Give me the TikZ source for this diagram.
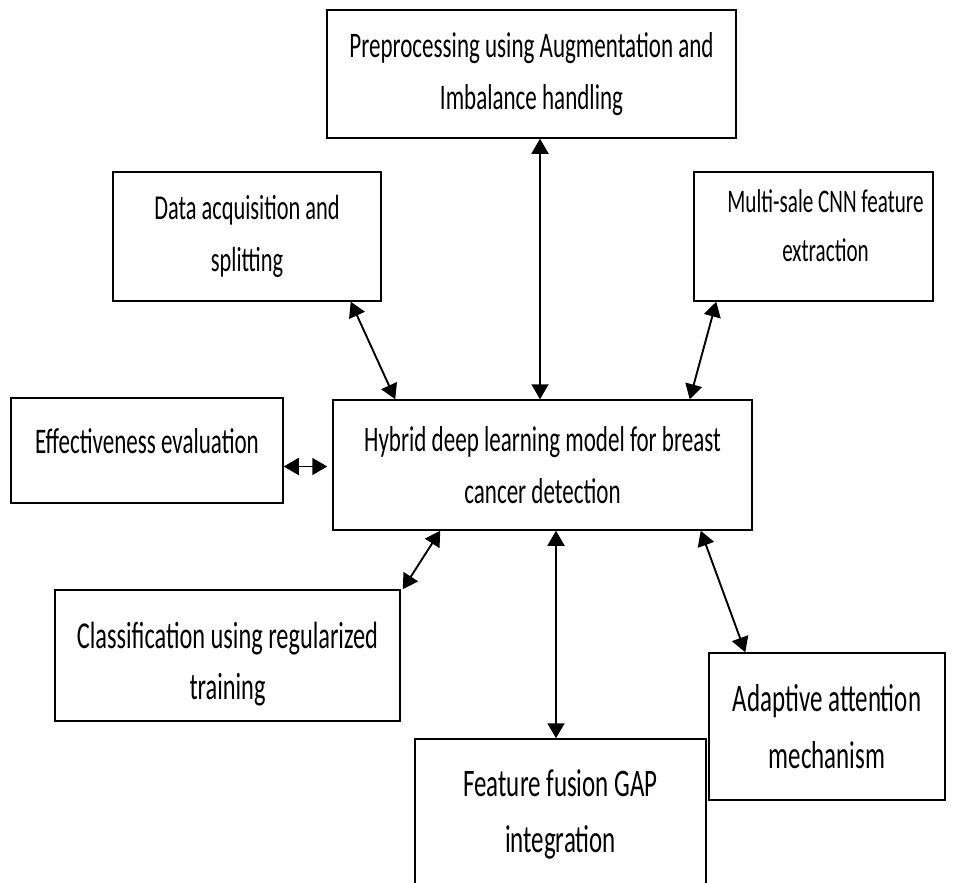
\documentclass[tikz,border=0pt]{standalone}
\usepackage{fontspec}
\setmainfont{Carlito}[FakeStretch=0.64]
\usetikzlibrary{arrows.meta, positioning}
\tikzset{
  block/.style={rectangle, draw, line width=1.5pt, align=center, inner sep=0pt, font=\fontsize{36}{52}\selectfont},
  arrow/.style={{Triangle[length=15pt,width=17pt]}-{Triangle[length=15pt,width=17pt]}, line width=1.9pt}
}

\begin{document}
\begin{tikzpicture}[x=1pt, y=-1pt]
  \clip (0,0) rectangle (953,883);
  % Nodes
  \node[block, minimum width=419pt, minimum height=130pt] (hybrid) at (542.5,465) {Hybrid deep learning model for breast\\cancer detection};
  \node[block, minimum width=409pt, minimum height=128pt] (prep) at (531.5,74) {Preprocessing using Augmentation and\\Imbalance handling};
  \node[block, minimum width=268pt, minimum height=129pt, font=\fontsize{35}{52}\selectfont] (data) at (247,236.5) {Data acquisition and\\splitting};
  \node[block, minimum width=239pt, minimum height=129pt, font=\fontsize{33}{49}\selectfont, text depth=22pt] (multi) at (813.5,236.5) {\hspace*{24pt}Multi-sale CNN feature\\\hspace*{24pt}extraction};
  \node[block, minimum width=272pt, minimum height=105pt, text height=27pt, text depth=22pt] (eval) at (147,450.5) {Effectiveness evaluation};
  \node[block, minimum width=345pt, minimum height=131pt, font=\fontsize{38}{51}\selectfont, text height=94pt] (classif) at (227.5,655.5) {Classification using regularized\\training};
  \node[block, minimum width=236pt, minimum height=147pt, font=\fontsize{39}{57}\selectfont] (attn) at (827,726.5) {Adaptive attention\\mechanism};
  \node[block, minimum width=291pt, minimum height=150pt, font=\fontsize{39}{56}\selectfont] (fusion) at (560.5,814) {Feature fusion GAP\\integration};

  % Connections
  \draw[arrow] ([xshift=8.5pt]prep.south) -- ([xshift=8.5pt]prep.south |- hybrid.north);
  \draw[arrow] ([xshift=-31pt]data.south east) -- ([xshift=63pt]hybrid.north west);
  \draw[arrow] ([xshift=23pt]multi.south west) -- ([xshift=-63pt]hybrid.north east);
  \draw[arrow, shorten >=5pt] ([yshift=-16pt]eval.east) -- ([yshift=-16pt]eval.east -| hybrid.west);
  \draw[arrow] ([xshift=2pt]classif.north east) -- ([xshift=108pt]hybrid.south west);
  \draw[arrow] ([xshift=-4.5pt]fusion.north) -- ([xshift=-4.5pt]fusion.north |- hybrid.south);
  \draw[arrow] ([xshift=37pt]attn.north west) -- ([xshift=-52pt]hybrid.south east);
\end{tikzpicture}
\end{document}
